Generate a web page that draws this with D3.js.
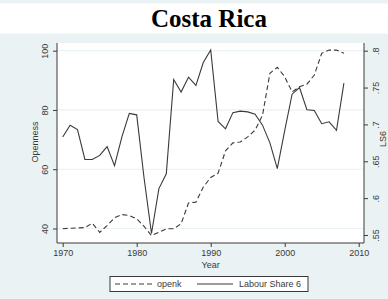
<!DOCTYPE html>
<html>
<head>
<meta charset="utf-8">
<script src="https://cdn.jsdelivr.net/npm/d3@7"></script>
<style>
  body { margin: 0; background: #fff; }
  svg { display: block; }
</style>
</head>
<body>
<svg width="388" height="299"></svg>
<script>
const years = d3.range(1970, 2009);
// openk (left axis)
const openk = [39.9, 40.1, 40.2, 40.3, 41.8, 38.7, 41.0, 43.6, 44.7, 44.4,
  43.3, 40.7, 37.6, 38.7, 39.9, 39.9, 41.6, 48.6, 48.9, 54.0,
  57.2, 58.7, 66.2, 68.9, 69.2, 70.9, 73.2, 78.2, 92.4, 94.4,
  91.2, 86.1, 87.8, 88.7, 91.8, 99.1, 100.2, 100.2, 99.1];
// Labour Share 6 (right axis)
const ls6 = [0.683, 0.699, 0.693, 0.6525, 0.6525, 0.658, 0.670, 0.644, 0.683, 0.715,
  0.713, 0.627, 0.552, 0.613, 0.633, 0.761, 0.744, 0.764, 0.753, 0.784,
  0.801, 0.704, 0.694, 0.716, 0.718, 0.717, 0.714, 0.699, 0.675, 0.640,
  0.6915, 0.741, 0.750, 0.720, 0.719, 0.701, 0.7035, 0.692, 0.756];
const xTicks = [1970, 1980, 1990, 2000, 2010];
const leftTicks = [40, 60, 80, 100];
const rightTicks = [0.55, 0.6, 0.65, 0.7, 0.75, 0.8];
const rightLabels = [".55", ".6", ".65", ".7", ".75", ".8"];

const svg = d3.select('svg');
const bg = '#eaf2f3';
const ink = '#3a3a3a';
const font = 'Liberation Sans, Arial, sans-serif';

svg.append('rect').attr('width', 388).attr('height', 299).attr('fill', bg);
svg.append('rect').attr('x', 0).attr('y', 3.5).attr('width', 388).attr('height', 30).attr('fill', '#fff');

svg.append('text')
  .attr('x', 209).attr('y', 27)
  .attr('text-anchor', 'middle')
  .style('font-family', 'Liberation Serif, Times New Roman, serif')
  .style('font-weight', 'bold')
  .style('font-size', '25px')
  .attr('fill', '#000')
  .text('Costa Rica');

const plot = { left: 57, right: 364, top: 43, bottom: 243 };

const x = d3.scaleLinear().domain([1970, 2010]).range([62.7, 358.7]);
const yL = d3.scaleLinear().domain([40, 100]).range([228.5, 50.7]);
const yR = d3.scaleLinear().domain([0.55, 0.8]).range([235, 50.7]);

svg.append('rect')
  .attr('x', plot.left).attr('y', plot.top)
  .attr('width', plot.right - plot.left).attr('height', plot.bottom - plot.top)
  .attr('fill', '#fff');

// grid lines
svg.append('g').selectAll('line').data(leftTicks).join('line')
  .attr('x1', plot.left).attr('x2', plot.right)
  .attr('y1', d => yL(d)).attr('y2', d => yL(d))
  .attr('stroke', bg).attr('stroke-width', 1.2);

// lines
svg.append('path')
  .datum(years.map((yr, i) => [yr, openk[i]]))
  .attr('fill', 'none').attr('stroke', ink).attr('stroke-width', 1.1)
  .attr('stroke-dasharray', '5,3')
  .attr('d', d3.line().x(d => x(d[0])).y(d => yL(d[1])));

svg.append('path')
  .datum(years.map((yr, i) => [yr, ls6[i]]))
  .attr('fill', 'none').attr('stroke', ink).attr('stroke-width', 1.1)
  .attr('d', d3.line().x(d => x(d[0])).y(d => yR(d[1])));

// axes
function styleAxis(g) {
  g.select('.domain').remove();
  g.selectAll('.tick line').attr('stroke', ink);
  g.selectAll('.tick text').attr('fill', ink)
    .style('font-family', font).style('font-size', '9px');
}

const xAxis = svg.append('g')
  .attr('transform', `translate(0,${plot.bottom})`)
  .call(d3.axisBottom(x).tickValues(xTicks).tickFormat(d3.format('d')).tickSize(4).tickPadding(3));
styleAxis(xAxis);

const lAxis = svg.append('g')
  .attr('transform', `translate(${plot.left},0)`)
  .call(d3.axisLeft(yL).tickValues(leftTicks).tickSize(4).tickPadding(2));
styleAxis(lAxis);
lAxis.selectAll('.tick text')
  .attr('text-anchor', 'middle')
  .attr('x', 0).attr('dy', 0)
  .attr('transform', 'translate(-9,0) rotate(-90)');

const rAxis = svg.append('g')
  .attr('transform', `translate(${plot.right},0)`)
  .call(d3.axisRight(yR).tickValues(rightTicks).tickFormat((d, i) => rightLabels[i]).tickSize(4));
styleAxis(rAxis);
rAxis.selectAll('.tick text')
  .attr('text-anchor', 'middle')
  .attr('x', 0).attr('dy', 0)
  .attr('transform', 'translate(15,0) rotate(-90)');

// axis lines
svg.append('line').attr('x1', plot.left).attr('x2', plot.left)
  .attr('y1', plot.top).attr('y2', plot.bottom).attr('stroke', ink);
svg.append('line').attr('x1', plot.right).attr('x2', plot.right)
  .attr('y1', plot.top).attr('y2', plot.bottom).attr('stroke', ink);
svg.append('line').attr('x1', plot.left).attr('x2', plot.right)
  .attr('y1', plot.bottom).attr('y2', plot.bottom).attr('stroke', ink);

// axis titles
svg.append('text')
  .attr('transform', `translate(38,${(plot.top + plot.bottom) / 2 - 1}) rotate(-90)`)
  .attr('text-anchor', 'middle')
  .style('font-family', font).style('font-size', '9px').attr('fill', ink)
  .text('Openness');
svg.append('text')
  .attr('transform', `translate(386,${(plot.top + plot.bottom) / 2 - 4}) rotate(-90)`)
  .attr('text-anchor', 'middle')
  .style('font-family', font).style('font-size', '9px').attr('fill', ink)
  .text('LS6');
svg.append('text')
  .attr('x', x(1990)).attr('y', 268)
  .attr('text-anchor', 'middle')
  .style('font-family', font).style('font-size', '9px').attr('fill', ink)
  .text('Year');

// legend
const lg = svg.append('g');
lg.append('rect').attr('x', 110).attr('y', 276.5).attr('width', 198).attr('height', 15)
  .attr('fill', '#fff').attr('stroke', ink).attr('stroke-width', 1);
lg.append('line').attr('x1', 115).attr('x2', 152).attr('y1', 284).attr('y2', 284)
  .attr('stroke', ink).attr('stroke-width', 1.1).attr('stroke-dasharray', '5,3');
lg.append('text').attr('x', 157).attr('y', 287)
  .style('font-family', font).style('font-size', '9px').attr('fill', ink).text('openk');
lg.append('line').attr('x1', 197).attr('x2', 233).attr('y1', 284).attr('y2', 284)
  .attr('stroke', ink).attr('stroke-width', 1.1);
lg.append('text').attr('x', 239).attr('y', 287)
  .style('font-family', font).style('font-size', '9px').attr('fill', ink).text('Labour Share 6');
</script>
</body>
</html>
